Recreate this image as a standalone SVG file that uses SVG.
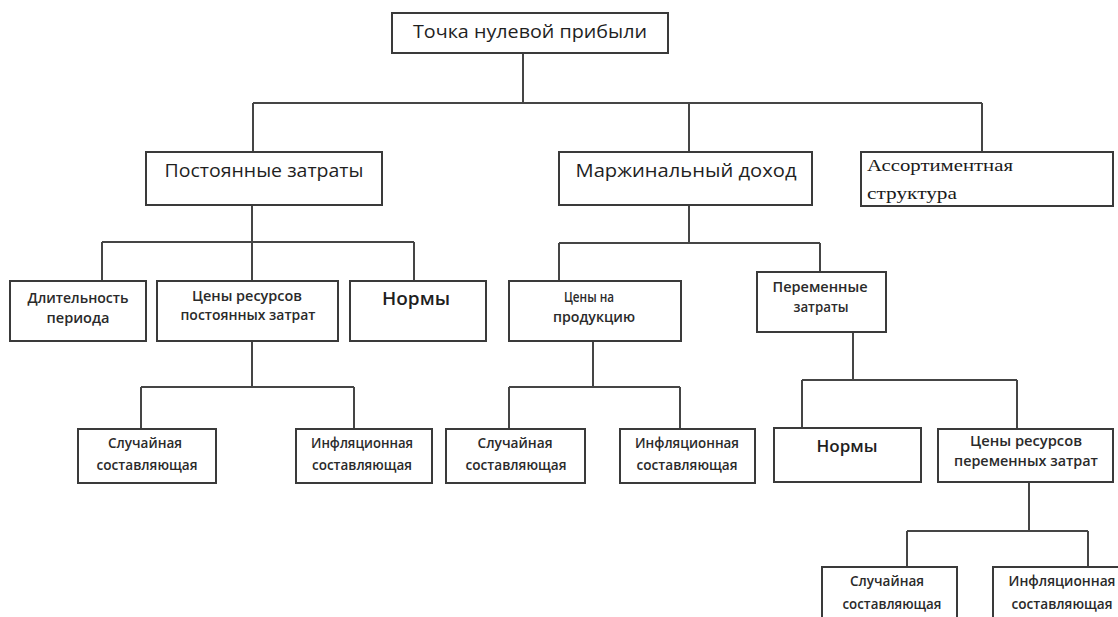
<svg xmlns="http://www.w3.org/2000/svg" width="1118" height="617" viewBox="0 0 1118 617">
  <style>
    .box { fill: #ffffff; stroke: #3a3a3a; stroke-width: 2; }
    .link { fill: none; stroke: #454545; stroke-width: 2; }
    .t { font-family: "Open Sans", "Liberation Sans", sans-serif; fill: #1f1f1f; text-anchor: middle; }
    .big { font-size: 18px; }
    .mid { font-size: 17px; font-weight: 600; }
    .small { font-size: 13.5px; font-weight: 600; fill: #2a2a2a; }
    .serif { font-family: "Liberation Serif", "Times New Roman", serif; font-size: 17.5px; fill: #1a1a1a; }
  </style>
  <rect width="1118" height="617" fill="#ffffff"/>

  <!-- connectors -->
  <g id="connectors">
    <!-- root to first level -->
    <path class="link" d="M523 53 V103 M253 103 H982 M253 103 V152 M689 103 V152 M982 103 V152"/>
    <!-- fixed costs branch -->
    <path class="link" d="M252 205 V242 M102 242 H414 M102 242 V281 M252 242 V281 M414 242 V281"/>
    <!-- margin income branch -->
    <path class="link" d="M689 205 V243 M559 243 H820 M559 243 V281 M820 243 V272"/>
    <!-- fixed resource prices -->
    <path class="link" d="M252 341 V387 M141 387 H354 M141 387 V429 M354 387 V429"/>
    <!-- product prices -->
    <path class="link" d="M593 341 V387 M509 387 H680 M509 387 V429 M680 387 V429"/>
    <!-- variable costs -->
    <path class="link" d="M853 332 V380 M802 380 H1017 M802 380 V428 M1017 380 V429"/>
    <!-- variable resource prices -->
    <path class="link" d="M1029 482 V531 M907 531 H1088 M907 531 V567 M1088 531 V567"/>
  </g>

  <g id="root">
    <rect class="box" x="392" y="13" width="276" height="40"/>
    <text class="t big" x="530" y="38" textLength="234" lengthAdjust="spacingAndGlyphs">Точка нулевой прибыли</text>
  </g>

  <g id="fixed-costs">
    <rect class="box" x="146" y="152" width="236" height="53"/>
    <text class="t big" x="264" y="177" textLength="199" lengthAdjust="spacingAndGlyphs">Постоянные затраты</text>
  </g>

  <g id="margin-income">
    <rect class="box" x="559" y="152" width="253" height="53"/>
    <text class="t big" x="686" y="177" textLength="221" lengthAdjust="spacingAndGlyphs">Маржинальный доход</text>
  </g>

  <g id="assortment">
    <rect class="box" x="861" y="152" width="252" height="54"/>
    <text class="serif" x="867" y="171" textLength="146" lengthAdjust="spacingAndGlyphs">Ассортиментная</text>
    <text class="serif" x="867" y="199" textLength="90" lengthAdjust="spacingAndGlyphs">структура</text>
  </g>

  <g id="period-length">
    <rect class="box" x="10" y="281" width="136" height="60"/>
    <text class="t small" x="78" y="303" textLength="101" lengthAdjust="spacingAndGlyphs">Длительность</text>
    <text class="t small" x="78" y="323" textLength="63" lengthAdjust="spacingAndGlyphs">периода</text>
  </g>

  <g id="fixed-resource-prices">
    <rect class="box" x="157" y="281" width="181" height="60"/>
    <text class="t small" x="247" y="301" textLength="110" lengthAdjust="spacingAndGlyphs">Цены ресурсов</text>
    <text class="t small" x="248" y="320" textLength="135" lengthAdjust="spacingAndGlyphs">постоянных затрат</text>
  </g>

  <g id="norms-fixed">
    <rect class="box" x="350" y="281" width="136" height="60"/>
    <text class="t big" x="416" y="305" textLength="68" lengthAdjust="spacingAndGlyphs" font-weight="600">Нормы</text>
  </g>

  <g id="product-prices">
    <rect class="box" x="509" y="281" width="172" height="60"/>
    <text class="t small" x="589" y="302" textLength="50" lengthAdjust="spacingAndGlyphs">Цены на</text>
    <text class="t small" x="594" y="322" textLength="82" lengthAdjust="spacingAndGlyphs">продукцию</text>
  </g>

  <g id="variable-costs">
    <rect class="box" x="757" y="272" width="129" height="60"/>
    <text class="t small" x="820" y="292" textLength="95" lengthAdjust="spacingAndGlyphs">Переменные</text>
    <text class="t small" x="821" y="312" textLength="55" lengthAdjust="spacingAndGlyphs">затраты</text>
  </g>

  <g id="fixed-random">
    <rect class="box" x="78" y="429" width="138" height="54"/>
    <text class="t small" x="145" y="448" textLength="74" lengthAdjust="spacingAndGlyphs">Случайная</text>
    <text class="t small" x="147" y="470" textLength="101" lengthAdjust="spacingAndGlyphs">составляющая</text>
  </g>

  <g id="fixed-inflation">
    <rect class="box" x="296" y="429" width="136" height="54"/>
    <text class="t small" x="362" y="448" textLength="102" lengthAdjust="spacingAndGlyphs">Инфляционная</text>
    <text class="t small" x="362" y="470" textLength="100" lengthAdjust="spacingAndGlyphs">составляющая</text>
  </g>

  <g id="product-random">
    <rect class="box" x="446" y="429" width="139" height="54"/>
    <text class="t small" x="515" y="448" textLength="75" lengthAdjust="spacingAndGlyphs">Случайная</text>
    <text class="t small" x="516" y="470" textLength="101" lengthAdjust="spacingAndGlyphs">составляющая</text>
  </g>

  <g id="product-inflation">
    <rect class="box" x="620" y="429" width="135" height="54"/>
    <text class="t small" x="687" y="448" textLength="104" lengthAdjust="spacingAndGlyphs">Инфляционная</text>
    <text class="t small" x="687" y="470" textLength="101" lengthAdjust="spacingAndGlyphs">составляющая</text>
  </g>

  <g id="norms-variable">
    <rect class="box" x="774" y="428" width="147" height="54"/>
    <text class="t mid" x="847" y="452" textLength="61" lengthAdjust="spacingAndGlyphs">Нормы</text>
  </g>

  <g id="variable-resource-prices">
    <rect class="box" x="938" y="429" width="175" height="53"/>
    <text class="t small" x="1026" y="446" textLength="112" lengthAdjust="spacingAndGlyphs">Цены ресурсов</text>
    <text class="t small" x="1026" y="466" textLength="144" lengthAdjust="spacingAndGlyphs">переменных затрат</text>
  </g>

  <g id="variable-random">
    <rect class="box" x="822" y="567" width="135" height="60"/>
    <text class="t small" x="887" y="586" textLength="74" lengthAdjust="spacingAndGlyphs">Случайная</text>
    <text class="t small" x="892" y="609" textLength="99" lengthAdjust="spacingAndGlyphs">составляющая</text>
  </g>

  <g id="variable-inflation">
    <rect class="box" x="993" y="567" width="140" height="60"/>
    <text class="t small" x="1062" y="586" textLength="107" lengthAdjust="spacingAndGlyphs">Инфляционная</text>
    <text class="t small" x="1062" y="609" textLength="101" lengthAdjust="spacingAndGlyphs">составляющая</text>
  </g>
</svg>
